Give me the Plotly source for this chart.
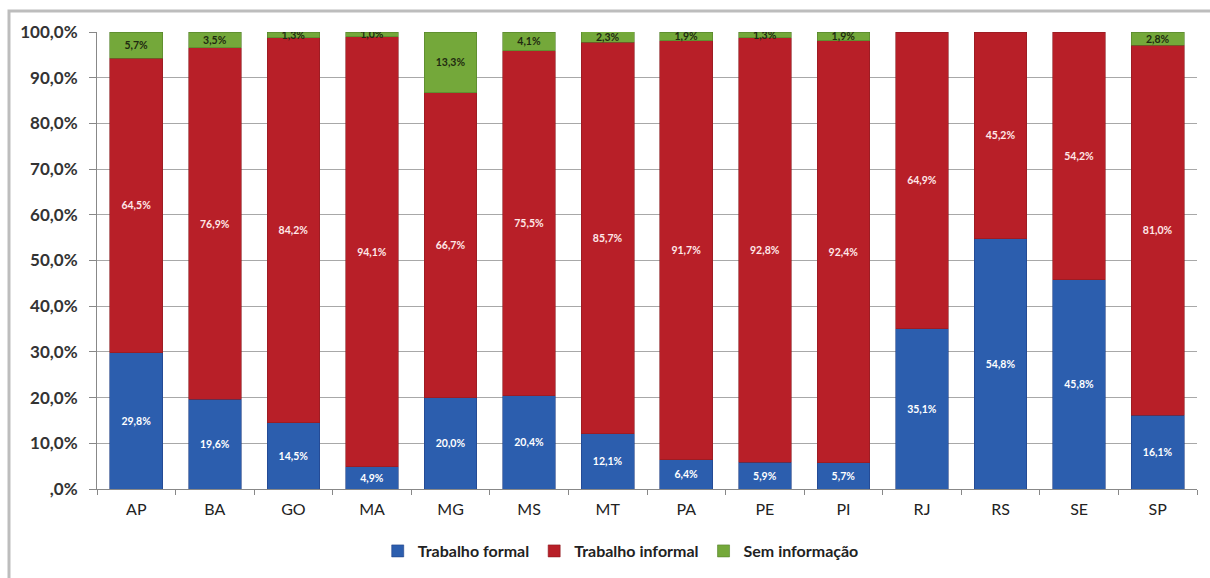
import plotly.graph_objects as go

estados = ["AP", "BA", "GO", "MA", "MG", "MS", "MT", "PA", "PE", "PI", "RJ", "RS", "SE", "SP"]
formal = [29.8, 19.6, 14.5, 4.9, 20.0, 20.4, 12.1, 6.4, 5.9, 5.7, 35.1, 54.8, 45.8, 16.1]
informal = [64.5, 76.9, 84.2, 94.1, 66.7, 75.5, 85.7, 91.7, 92.8, 92.4, 64.9, 45.2, 54.2, 81.0]
sem_info = [5.7, 3.5, 1.3, 1.0, 13.3, 4.1, 2.3, 1.9, 1.3, 1.9, None, None, None, 2.8]

tick_vals = [0, 10, 20, 30, 40, 50, 60, 70, 80, 90, 100]
tick_text = [",0%", "10,0%", "20,0%", "30,0%", "40,0%", "50,0%", "60,0%", "70,0%", "80,0%", "90,0%", "100,0%"]

FONT = "Lato, 'Open Sans', sans-serif"


def fmt(v):
    return "" if v is None else f"{v:.1f}%".replace(".", ",")


series = [
    ("Trabalho formal", formal, "#2C5EAE", "#1F3F86", "white"),
    ("Trabalho informal", informal, "#B81F28", "#8C1A1F", "#FFE8E8"),
    ("Sem informação", sem_info, "#74A83A", "#54802A", "#1F2A10"),
]

fig = go.Figure()
for name, vals, color, edge, tcolor in series:
    fig.add_trace(go.Bar(
        name=name,
        x=estados,
        y=vals,
        marker=dict(color=color, line=dict(color=edge, width=0.6)),
        text=[fmt(v) for v in vals],
        textposition="inside",
        insidetextanchor="middle",
        textangle=0,
        constraintext="none",
        cliponaxis=True,
        textfont=dict(family=FONT, size=10.5, color=tcolor, weight="bold"),
        hoverinfo="skip",
    ))

fig.update_layout(
    barmode="stack",
    bargap=0.33,
    width=1210,
    height=578,
    margin=dict(l=97, r=13, t=32, b=89, autoexpand=False),
    paper_bgcolor="white",
    plot_bgcolor="white",
    font=dict(family=FONT, color="#333333"),
    uniformtext=dict(mode=False),
    legend=dict(
        orientation="h",
        x=0.513, xanchor="center", xref="container",
        y=(578 - 551) / 578, yanchor="middle", yref="container",
        font=dict(family=FONT, size=16, color="#222222", weight="bold"),
        itemwidth=30,
        traceorder="normal",
    ),
    xaxis=dict(
        type="category",
        automargin=False,
        tickson="boundaries",
        ticks="outside",
        ticklen=5,
        tickcolor="#888888",
        showline=True,
        linecolor="#888888",
        linewidth=1,
        ticklabelstandoff=6,
        tickfont=dict(family=FONT, size=16, color="#222222"),
        showgrid=False,
    ),
    yaxis=dict(
        range=[0, 100],
        automargin=False,
        tickvals=tick_vals,
        ticktext=tick_text,
        ticks="outside",
        ticklen=7,
        tickcolor="#888888",
        showline=True,
        linecolor="#888888",
        linewidth=1,
        showgrid=True,
        gridcolor="#A8A8A8",
        gridwidth=1,
        zeroline=False,
        ticklabelstandoff=8,
        tickfont=dict(family=FONT, size=17, color="#333333", weight="bold"),
    ),
    shapes=[
        dict(
            type="rect", xref="paper", yref="paper",
            x0=(9 - 97) / 1100, x1=(1212 - 97) / 1100,
            y0=(489 - 590) / 457, y1=(489 - 11) / 457,
            line=dict(color="#BDBDBD", width=3),
            fillcolor="rgba(0,0,0,0)",
            layer="below",
        )
    ],
)

fig.write_html("out.html")
